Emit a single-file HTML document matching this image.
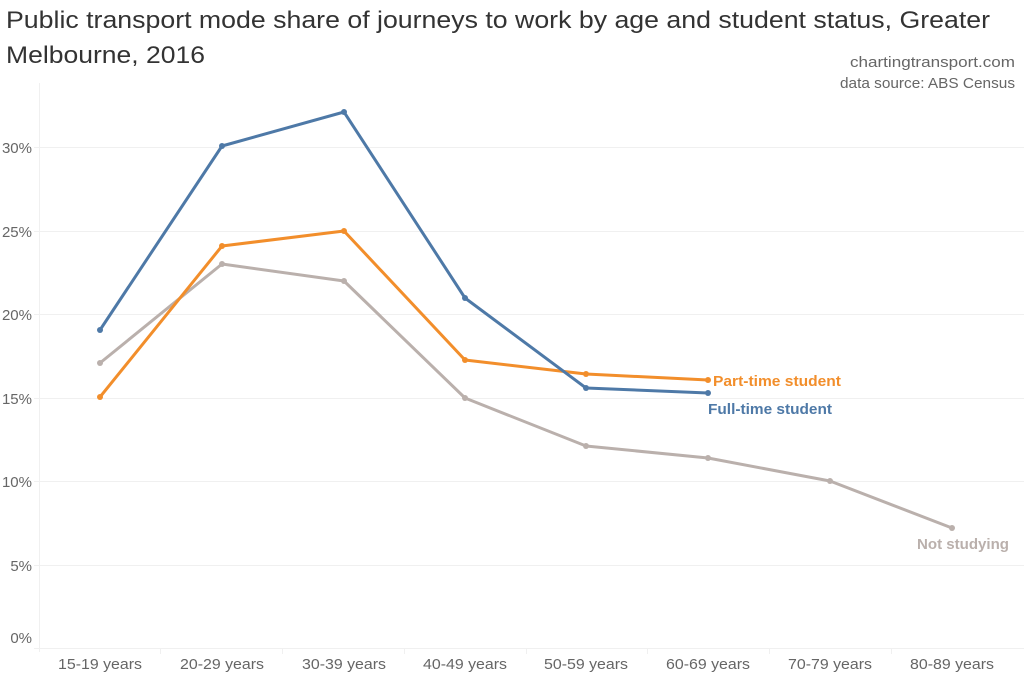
<!DOCTYPE html>
<html><head><meta charset="utf-8"><style>
body{margin:0;background:#fff;width:1024px;height:682px;overflow:hidden}
svg text{font-family:"Liberation Sans","DejaVu Sans",sans-serif}
</style></head><body>
<svg width="1024" height="682" viewBox="0 0 1024 682">
<text x="6" y="28" font-size="24" fill="#333" textLength="984" lengthAdjust="spacingAndGlyphs">Public transport mode share of journeys to work by age and student status, Greater</text>
<text x="6" y="63" font-size="24" fill="#333" textLength="199" lengthAdjust="spacingAndGlyphs">Melbourne, 2016</text>
<text x="850" y="67" font-size="15" fill="#666" textLength="165" lengthAdjust="spacingAndGlyphs">chartingtransport.com</text>
<text x="840" y="88" font-size="15" fill="#666" textLength="175" lengthAdjust="spacingAndGlyphs">data source: ABS Census</text>
<g stroke="#f0f0f0" stroke-width="1">
<line x1="34" x2="1024" y1="147.5" y2="147.5"/>
<line x1="34" x2="1024" y1="231.5" y2="231.5"/>
<line x1="34" x2="1024" y1="314.5" y2="314.5"/>
<line x1="34" x2="1024" y1="398.5" y2="398.5"/>
<line x1="34" x2="1024" y1="481.5" y2="481.5"/>
<line x1="34" x2="1024" y1="565.5" y2="565.5"/>
<line x1="34" x2="1024" y1="648.5" y2="648.5"/>
<line x1="39.5" x2="39.5" y1="83" y2="652"/>
<line x1="160.5" x2="160.5" y1="648" y2="654"/><line x1="282.5" x2="282.5" y1="648" y2="654"/>
<line x1="404.5" x2="404.5" y1="648" y2="654"/><line x1="526.5" x2="526.5" y1="648" y2="654"/>
<line x1="647.5" x2="647.5" y1="648" y2="654"/><line x1="769.5" x2="769.5" y1="648" y2="654"/>
<line x1="891.5" x2="891.5" y1="648" y2="654"/>
</g>
<g font-size="15" fill="#666" text-anchor="end">
<text x="32" y="153">30%</text><text x="32" y="237">25%</text><text x="32" y="320">20%</text>
<text x="32" y="404">15%</text><text x="32" y="487">10%</text><text x="32" y="571">5%</text><text x="32" y="643">0%</text>
</g>
<g font-size="15" fill="#666" text-anchor="middle">
<text x="100" y="669" textLength="84" lengthAdjust="spacingAndGlyphs">15-19 years</text><text x="222" y="669" textLength="84" lengthAdjust="spacingAndGlyphs">20-29 years</text><text x="344" y="669" textLength="84" lengthAdjust="spacingAndGlyphs">30-39 years</text>
<text x="465" y="669" textLength="84" lengthAdjust="spacingAndGlyphs">40-49 years</text><text x="586" y="669" textLength="84" lengthAdjust="spacingAndGlyphs">50-59 years</text><text x="708" y="669" textLength="84" lengthAdjust="spacingAndGlyphs">60-69 years</text>
<text x="830" y="669" textLength="84" lengthAdjust="spacingAndGlyphs">70-79 years</text><text x="952" y="669" textLength="84" lengthAdjust="spacingAndGlyphs">80-89 years</text>
</g>
<g fill="none" stroke-width="3" stroke-linejoin="round">
<polyline stroke="#bab0ac" points="100,363 222,264 344,281 465,398 586,446 708,458 830,481 952,528"/>
<polyline stroke="#f28e2b" points="100,397 222,246 344,231 465,360 586,374 708,380"/>
<polyline stroke="#4e79a7" points="100,330 222,146 344,112 465,298 586,388 708,393"/>
</g>
<g fill="#bab0ac"><circle cx="100" cy="363" r="3"/><circle cx="222" cy="264" r="3"/><circle cx="344" cy="281" r="3"/><circle cx="465" cy="398" r="3"/><circle cx="586" cy="446" r="3"/><circle cx="708" cy="458" r="3"/><circle cx="830" cy="481" r="3"/><circle cx="952" cy="528" r="3"/></g>
<g fill="#f28e2b"><circle cx="100" cy="397" r="3"/><circle cx="222" cy="246" r="3"/><circle cx="344" cy="231" r="3"/><circle cx="465" cy="360" r="3"/><circle cx="586" cy="374" r="3"/><circle cx="708" cy="380" r="3"/></g>
<g fill="#4e79a7"><circle cx="100" cy="330" r="3"/><circle cx="222" cy="146" r="3"/><circle cx="344" cy="112" r="3"/><circle cx="465" cy="298" r="3"/><circle cx="586" cy="388" r="3"/><circle cx="708" cy="393" r="3"/></g>
<text x="713" y="386" font-size="15" font-weight="bold" fill="#f28e2b" textLength="128" lengthAdjust="spacingAndGlyphs">Part-time student</text>
<text x="708" y="414" font-size="15" font-weight="bold" fill="#4e79a7" textLength="124" lengthAdjust="spacingAndGlyphs">Full-time student</text>
<text x="917" y="549" font-size="15" font-weight="bold" fill="#bab0ac" textLength="92" lengthAdjust="spacingAndGlyphs">Not studying</text>
</svg>
</body></html>
